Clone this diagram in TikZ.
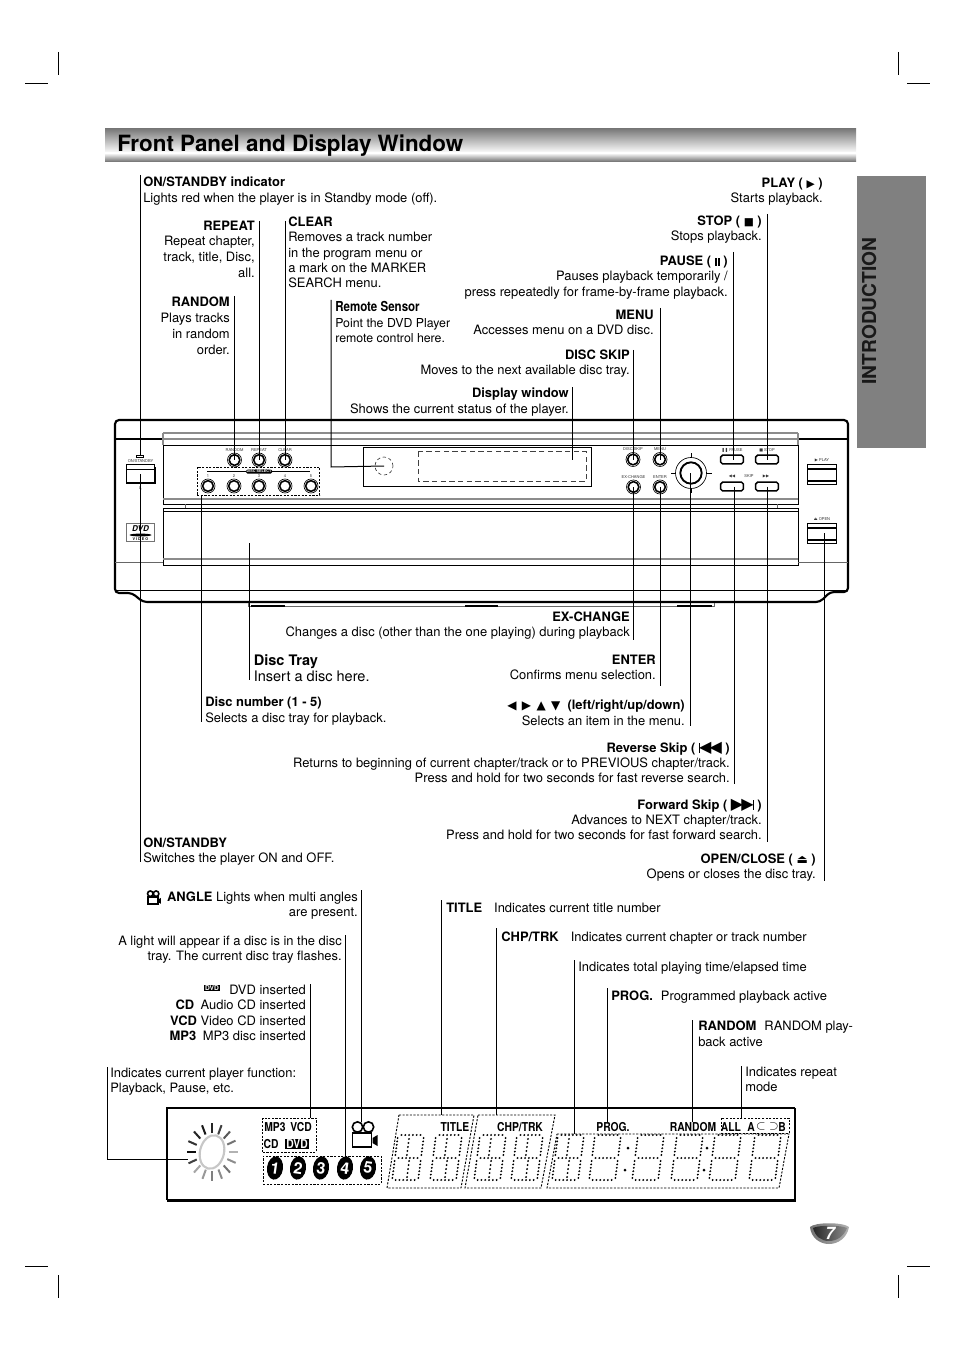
\documentclass[tikz,border=0pt]{standalone}
\usepackage{fontspec}
\setmainfont{TeX Gyre Heros}
\newfontfamily\symfont{DejaVu Sans}
\newfontfamily\cnfont[FakeStretch=0.84]{TeX Gyre Heros}
\usetikzlibrary{shapes.geometric, calc, positioning}

\newcommand{\panelsym}[2][9]{{\symfont\fontsize{#1}{#1}\selectfont #2}}
\newcommand{\bartick}{\rule[-0.2pt]{0.7pt}{7pt}}

\begin{document}
\begin{tikzpicture}[x=0.75pt, y=-0.75pt, line cap=butt]

% --- Styles ---
\tikzset{
    lblL/.style={anchor=north west, align=left, inner sep=0pt, yshift=3.8pt,
        font=\fontsize{9.7}{11.4}\selectfont, execute at begin node=\strut},
    lblR/.style={lblL, anchor=north east, align=right},
    leader/.style={black, line width=0.75pt},
    cropMark/.style={black, line width=0.6pt},
    devLine/.style={black, line width=0.7pt},
    devThick/.style={black, line width=1.6pt},
    devGray/.style={black!45, line width=1pt},
    dashBox/.style={black, line width=0.7pt, dash pattern=on 1.6pt off 1.1pt},
    dashGray/.style={black!75, line width=0.5pt, dash pattern=on 4pt off 2.5pt},
    tinyLbl/.style={inner sep=0pt, font=\fontsize{3}{3.4}\selectfont, black!80},
    btnRound/.style={circle, draw=black, fill=white, line width=1.2pt, minimum size=8pt, inner sep=0pt},
    btnFlat/.style={rectangle, rounded corners=1.4pt, draw=black, fill=white, line width=1.1pt,
        minimum width=17pt, minimum height=6.5pt, inner sep=0pt},
    btnBig/.style={rectangle, draw=black, fill=white, line width=0.6pt, minimum width=21.5pt, minimum height=15pt, inner sep=0pt},
    dispLbl/.style={inner sep=0pt, font=\cnfont\bfseries\fontsize{9.2}{10}\selectfont},
    discDot/.style={ellipse, fill=black, text=white, inner sep=0pt, minimum width=12pt, minimum height=17.5pt,
        rotate=-8, font=\bfseries\fontsize{12}{12}\selectfont},
    segdigit/.pic={
        \begin{scope}[xslant=0.13]
            \foreach \y in {-23,0,22} \foreach \x in {-9.5,-5.7,-1.9,1.9,5.7,9.5} {
                \fill[black] (\x,\y) circle (1.05);
            }
            \foreach \x in {-13,13} \foreach \y in {-20,-16.6,-13.2,-9.8,-6.4,-3, 3,6.4,9.8,13.2,16.6,20} {
                \fill[black] (\x,\y) circle (1.05);
            }
        \end{scope}
    },
    segcenter/.pic={
        \begin{scope}[xslant=0.13]
            \foreach \y in {-19,-15,-11,-7,-3} {
                \fill[black] (-1.5,\y) circle (1.05);
                \fill[black] (1.5,-\y) circle (1.05);
            }
        \end{scope}
    },
    camera/.pic={
        \draw[black, line width=1.2pt, fill=white] (-7,-10) circle (5.2);
        \draw[black, line width=1.2pt, fill=white] (4,-10) circle (5.2);
        \draw[black, line width=1.4pt, fill=white] (-12,-4) rectangle (7,10);
        \fill[black] (8,1) -- (13,-2) -- (13,9) -- (8,6) -- cycle;
    },
}

\useasboundingbox (0,0) rectangle (954,1351);

% --- Crop marks ---
\foreach \x/\xa/\xb in {58/25/48, 898/907/930} {
    \draw[cropMark] (\x,52) -- (\x,75);
    \draw[cropMark] (\xa,83) -- (\xb,83);
    \draw[cropMark] (\x,1275) -- (\x,1298);
    \draw[cropMark] (\xa,1266) -- (\xb,1266);
}

% --- Title bar and side tab ---
\shade[top color=black!52, bottom color=white] (105,129) rectangle (856,153);
\shade[top color=white, bottom color=black!58] (105,153) rectangle (856,162);
\node[anchor=base west, inner sep=0pt, font=\bfseries\fontsize{16.8}{18}\selectfont] (titleLbl) at (117,151.5) {Front Panel and Display Window};
\fill[black!50] (857,176) rectangle (926,448);
\node[rotate=90, inner sep=0pt, text=black!90, font=\bfseries\fontsize{14.4}{16}\selectfont] (tabLbl) at (869,311) {INTRODUCTION};

% --- The front panel ---
\draw[devThick, rounded corners=3pt] (143,602) -- (132,593) -- (115,593) -- (115,420) -- (848,420) -- (848,592) -- (830,592) -- (820,602) -- cycle;
\draw[devThick] (115,439) -- (163,439);
\draw[devThick] (798,439) -- (848,439);
\draw[devGray] (163,433) -- (798,433) (163,433) -- (163,445) (798,433) -- (798,445);
\draw[devGray] (163,439) -- (798,439);
\draw[devLine] (163,445) rectangle (798,504);
\draw[devGray] (163,499) -- (798,499);
\draw[devLine] (163,508) rectangle (798,565);
\draw[devLine] (163,511) -- (798,511);
\draw[devGray] (163,559) -- (798,559);
\draw[devLine] (115,590) -- (848,590);
\draw[black!60, line width=0.5pt] (115,562) -- (163,562) (798,562) -- (848,562);
\draw[black!60, line width=0.5pt] (185,504) -- (185,508) (777,504) -- (777,508);
% feet under the tray
\draw[black!60, line width=0.5pt] (248,603) -- (248,606) -- (714,606) -- (714,603);
\draw[black, line width=0.8pt] (251,606) -- (285,606) (465,606) -- (498,606) (677,606) -- (712,606);

% power side
\node[draw=black, line width=0.4pt, minimum width=5pt, minimum height=1.6pt, inner sep=0pt] (ledOn) at (140,456) {};
\node[tinyLbl] (ledLbl) at (140.5,461) {ON/STANDBY};
\node[btnBig, minimum height=14pt, line width=0.8pt] (btnOn) at (140.5,474) {};
\draw[black, line width=0.6pt] (126,469) -- (155,469);
\draw[black, line width=1.6pt] (155,467) -- (155,483) -- (127,483);
\node[tinyLbl] (onMark) at (140.5,488) {I/\symbol{"2C}};
\node[draw=black!55, line width=0.7pt, minimum width=21.5pt, minimum height=14pt, inner sep=0pt] (dvdLogo) at (140.5,532.5) {};
\node[inner sep=0pt, font=\bfseries\itshape\fontsize{6}{6}\selectfont] (dvdLogoTxt) at (140.5,528.5) {DVD};
\fill[black] (140.5,535) ellipse [x radius=11, y radius=1.4];
\node[inner sep=0pt, font=\bfseries\fontsize{2.8}{3}\selectfont] (dvdLogoSub) at (140.5,539.5) {V I D E O};

% round buttons, upper left
\foreach \n/\x/\y/\t in {bRandom/234.5/460/RANDOM, bRepeat/259/460/REPEAT, bClear/285/460/CLEAR,
        bDiscOne/208/486/1, bDiscTwo/234/486/2, bDiscThree/259/486/3, bDiscFour/285/486/4, bDiscFive/311/486/5,
        bDiscSkip/633/459.5/DISC SKIP, bMenu/660/459.5/MENU, bExChange/633.5/487/EX-CHANGE, bEnter/660/487/ENTER} {
    \node[btnRound] (\n) at (\x,\y) {};
    \draw[black, line width=0.5pt] (\n.center) circle (7);
    \node[tinyLbl] (\n Lbl) at ($(\n.center)+(0,-10)$) {\t};
}
\node[dashBox, draw, minimum width=92pt, minimum height=21pt, inner sep=0pt] (boxDiscs) at (258.5,481) {};
\draw[black, line width=0.6pt] (207,471.5) -- (310,471.5);
\node[fill=black, text=white, rounded corners=1pt, inner sep=0.5pt, font=\bfseries\fontsize{2.8}{3}\selectfont] (discSelect) at (259,471.5) {DISC SELECT};

% display window
\draw[devLine] (363,447) rectangle (591,486);
\node[circle, draw=black!75, line width=0.5pt, dash pattern=on 2.5pt off 2pt, minimum size=13.5pt, inner sep=0pt] (sensor) at (384,466) {};
\draw[dashGray] (418,451.5) rectangle (586,481);

% jog dial and flat buttons
\node[circle, draw=black, fill=white, line width=1.4pt, minimum size=16pt, inner sep=0pt] (jog) at (691,473) {};
\draw[black, line width=0.5pt] (jog.center) circle (15.5);
\draw[black, line width=0.7pt] (691,453) -- (691,457) (691,488) -- (691,493) (671,473) -- (676,473) (706,473) -- (712,473);
\foreach \n/\x/\y in {bPause/732/459.5, bStop/767/459.5, bRev/732/486.5, bFwd/767/486.5} {
    \node[btnFlat] (\n) at (\x,\y) {};
}
\node[tinyLbl] (pauseLbl) at (732,450) {{\symfont\char"275A\char"275A} PAUSE};
\node[tinyLbl] (stopLbl) at (767,450) {{\symfont\char"25A0} STOP};
\node[tinyLbl] (revLbl) at (732,476) {{\symfont\char"25C0\char"25C0}};
\node[tinyLbl] (skipLbl) at (749,476) {SKIP};
\node[tinyLbl] (fwdLbl) at (766,476) {{\symfont\char"25B6\char"25B6}};

% play and open/close
\foreach \n/\y/\t in {bPlay/474/{\symfont\char"25B6} PLAY, bOpen/533/{\symfont\char"23CF} OPEN/CLOSE} {
    \node[btnBig] (\n) at (822,\y) {};
    \draw[black, line width=1pt] (807,\y-5) -- (837,\y-5);
    \draw[black, line width=0.8pt] (807,\y+7) -- (837,\y+7);
    \node[tinyLbl] (\n Lbl) at (822,\y-14) {\t};
}

% --- Labels above the panel ---
\node[lblL] (lblIndicator) at (143,182) {\textbf{ON/STANDBY indicator}\\Lights red when the player is in Standby mode (off).};
\node[lblR] (lblRepeat) at (255,225.5) {\textbf{REPEAT}\\[0.5pt]Repeat chapter,\\[0.5pt]track, title, Disc,\\[0.5pt]all.};
\node[lblL] (lblClear) at (288,222) {\textbf{CLEAR}\\Removes a track number\\in the program menu or\\a mark on the MARKER\\SEARCH menu.};
\node[lblR] (lblRandom) at (230,302) {\textbf{RANDOM}\\[0.5pt]Plays tracks\\[0.5pt]in random\\[0.5pt]order.};
\node[lblL] (lblSensor) at (335,306) {{\cnfont\bfseries\fontsize{10.3}{11}\selectfont Remote Sensor}\\[0.5pt]{\fontsize{9.25}{11}\selectfont Point the DVD Player}\\{\fontsize{9.25}{11}\selectfont remote control here.}};
\node[lblR] (lblPlay) at (823,182.5) {\textbf{PLAY ( \panelsym[8]{\char"25B6} )}\\Starts playback.};
\node[lblR] (lblStop) at (762,221) {\textbf{STOP ( \panelsym[8]{\char"25A0} )}\\Stops playback.};
\node[lblR] (lblPause) at (728,261) {\textbf{PAUSE ( \rule{1.6pt}{6.2pt}\kern0.6pt\rule{1.6pt}{6.2pt} )}\\Pauses playback temporarily /\\press repeatedly for frame-by-frame playback.};
\node[lblR] (lblMenu) at (654,315) {\textbf{MENU}\\Accesses menu on a DVD disc.};
\node[lblR] (lblDiscSkip) at (630,355) {\textbf{DISC SKIP}\\Moves to the next available disc tray.};
\node[lblR] (lblDisplay) at (569,393) {\textbf{Display window}\\Shows the current status of the player.};

% --- Labels below the panel ---
\node[lblR] (lblExChange) at (630,617) {\textbf{EX-CHANGE}\\Changes a disc (other than the one playing) during playback};
\node[lblR] (lblEnter) at (656,660) {\textbf{ENTER}\\Confirms menu selection.};
\node[lblR] (lblArrows) at (685,705) {\textbf{\panelsym{\char"25C0\hspace{4pt}\char"25B6\hspace{4pt}\char"25B2\hspace{4pt}\char"25BC}\ \ (left/right/up/down)}\\Selects an item in the menu.};
\node[lblR] (lblRev) at (730,747) {\textbf{Reverse Skip ( \bartick\kern-0.6pt\panelsym[12]{\char"25C0\kern-1.4pt\char"25C0} )}\\Returns to beginning of current chapter/track or to PREVIOUS chapter/track.\\Press and hold for two seconds for fast reverse search.};
\node[lblR] (lblFwd) at (762,804) {\textbf{Forward Skip ( \panelsym[12]{\char"25B6\kern-1.4pt\char"25B6}\kern-0.6pt\bartick{} )}\\Advances to NEXT chapter/track.\\Press and hold for two seconds for fast forward search.};
\node[lblR] (lblOpen) at (816,859) {\textbf{OPEN/CLOSE ( \panelsym{\char"23CF} )}\\Opens or closes the disc tray.};
\node[lblL, font=\fontsize{10.9}{12}\selectfont] (lblTray) at (253.5,659) {\textbf{Disc Tray}\\Insert a disc here.};
\node[lblL] (lblDiscNum) at (205,702) {\textbf{Disc number (1 - 5)}\\Selects a disc tray for playback.};
\node[lblL] (lblOnStandby) at (143,843) {\textbf{ON/STANDBY}\\Switches the player ON and OFF.};

% --- Labels above the display ---
\node[lblR] (lblAngle) at (358,897) {\textbf{ANGLE} Lights when multi angles\\are present.};
\pic[scale=0.53, transform shape] at (154,899) {camera};
\node[lblR] (lblLight) at (342,941) {A light will appear if a disc is in the disc\\tray. The current disc tray flashes.};
\node[lblR] (lblInserted) at (306,990) {DVD inserted\\\textbf{CD}\enspace Audio CD inserted\\\textbf{VCD} Video CD inserted\\\textbf{MP3}\enspace MP3 disc inserted};
\node[fill=black, text=white, inner sep=0.6pt, font=\bfseries\fontsize{5}{5}\selectfont] (dvdBadge) at (212,988) {DVD};
\node[lblL] (lblFunction) at (110,1073) {Indicates current player function:\\Playback, Pause, etc.};
\node[lblL] (lblTitle) at (446,907) {\textbf{TITLE}\hspace{9pt}Indicates current title number};
\node[lblL] (lblChp) at (501,936) {\textbf{CHP/TRK}\hspace{9pt}Indicates current chapter or track number};
\node[lblL] (lblTime) at (578,966) {Indicates total playing time/elapsed time};
\node[lblL] (lblProg) at (611,995) {\textbf{PROG.}\hspace{6pt}Programmed playback active};
\node[lblL] (lblRandomDisp) at (698,1026) {\textbf{RANDOM}\hspace{6pt}RANDOM play-\\back active};
\node[lblL] (lblRepeatDisp) at (745,1072) {Indicates repeat\\mode};

% --- The display window ---
\draw[black, line width=0.8pt] (167,1200) -- (167,1108) -- (795,1108);
\draw[black, line width=1.8pt] (795,1108) -- (795,1200.5) -- (167,1200.5);

% the flashing disc
\node[ellipse, draw=black!22, line width=1.6pt, minimum width=18pt, minimum height=25.5pt, inner sep=0pt, rotate=-14] (discLight) at (212,1152) {};
\foreach \a/\c in {0/30, 22/45, 45/55, 67/45, 90/50, 112/40, 135/35, 157/75, 180/95, 202/80, 225/85, 247/90, 270/85, 292/75, 315/65, 337/55} {
    \draw[black!\c, line width=1.5pt] ($(212,1152)+(\a:16.5 and 19)$) -- ($(212,1152)+(\a:25.5 and 29)$);
}

% disc selector group
\node[dashBox, draw, minimum width=40pt, minimum height=25.5pt, inner sep=0pt] (boxMedia) at (289.5,1135) {};
\node[dispLbl] (mpThree) at (275,1127) {MP3};
\node[dispLbl] (vcdDisp) at (301,1127) {VCD};
\node[dispLbl] (cdDisp) at (271,1144) {CD};
\node[dispLbl, fill=black, text=white, inner xsep=1pt, inner ysep=0.6pt] (dvdDisp) at (297,1144) {DVD};
\node[dashBox, draw, minimum width=88.5pt, minimum height=21pt, inner sep=0pt] (boxNums) at (322,1170) {};
\foreach \n/\x/\t in {dOne/275/1, dTwo/298/2, dThree/321/3, dFour/345/4, dFive/368/5} {
    \node[discDot] (\n) at (\x,1168) {\t};
}
\pic[transform shape] at (364.5,1137) {camera};

% digit groups
\draw[dashBox] (399,1115) -- (474,1115) -- (461,1188) -- (387,1188) -- cycle;
\draw[dashBox] (478,1115) -- (555,1115) -- (541,1188) -- (465,1188) -- cycle;
\draw[dashBox] (557,1134) -- (789,1134) -- (779,1188) -- (547,1188) -- cycle;
\foreach \p in {408,446,490,527,568,605,648,687,725,765} {
    \pic at (\p,1158) {segdigit};
}
\foreach \p in {408,446,490,527,568} {
    \pic at (\p,1158) {segcenter};
}
\foreach \x/\y in {628/1148, 625/1170, 707/1148, 704/1170} {
    \fill[black] (\x,\y) circle (1.5);
}
\node[dispLbl] (titleDisp) at (455,1127) {TITLE};
\node[dispLbl] (chpDisp) at (520,1127) {CHP/TRK};
\node[dispLbl] (progDisp) at (613,1127) {PROG.};
\node[dispLbl] (randomDisp) at (693,1127) {RANDOM};
\node[dashBox, draw, minimum width=51pt, minimum height=11.3pt, inner sep=0pt] (boxRepeat) at (755,1125.5) {};
\node[dispLbl] (allDisp) at (731,1127) {ALL};
\node[dispLbl] (aDisp) at (751,1127) {A};
\node[inner sep=0pt, font=\fontsize{9}{9}\selectfont] (subDisp) at (761,1126.5) {$\subset$};
\node[inner sep=0pt, font=\fontsize{9}{9}\selectfont] (supDisp) at (774,1126.5) {$\supset$};
\node[dispLbl] (bDisp) at (782,1127) {B};

% --- Leaders ---
\foreach \n/\x/\y in {tIndicator/140/175, bOnStandby/140.5/862, tRepeat/259/221, tClear/285/221, tRandom/234.5/296,
        tSensor/331/300, cSensor/331/467, tStop/767/214, tPause/733/252, tMenu/660/308, tDiscSkip/633/350, tDisplay/572/387,
        dDisplay/572/460, bExChange2/633.5/640, bEnter2/660/686, tJog/690/473, bJog/690/726, bRevEnd/734/784, bFwdEnd/767/842,
        tOpen/824/533, bOpenEnd/824/881, tTray/249.5/543, bTray/249.5/680, bDiscNum/201/722,
        tAngle/361/890, cCamera/361/1122, tLight/345/935, tInserted/310/984, tFunction/107/1067, cFunction/107/1159, eFunction/188/1159,
        tTitle/441/900, tChp/496/928, tTime/574/960, tProg/607/988, tRandomDisp/692.5/1020, tRepeatDisp/741/1066} {
    \coordinate (\n) at (\x,\y);
}
\draw[leader] (tIndicator) -- (ledOn.center -| tIndicator);
\draw[leader] (btnOn.center) -- (bOnStandby);
\draw[leader] (tRepeat) -- (bRepeat.center);
\draw[leader] (tClear) -- (bClear.center);
\draw[leader] (tRandom) -- (bRandom.center);
\draw[leader] (tSensor) -- (cSensor) -- (sensor.center);
\draw[leader] (tStop) -- (bStop.center);
\draw[leader] (tPause) -- (tPause |- bPause);
\draw[leader] (tMenu) -- (bMenu.center);
\draw[leader] (tDiscSkip) -- (bDiscSkip.center);
\draw[leader] (tDisplay) -- (dDisplay);
\draw[leader] (bExChange.center) -- (bExChange2);
\draw[leader] (bEnter.center) -- (bEnter2);
\draw[leader] (tJog) -- (bJog);
\draw[leader] (bRevEnd |- bRev) -- (bRevEnd);
\draw[leader] (bFwd.center) -- (bFwdEnd);
\draw[leader] (tOpen) -- (bOpenEnd);
\draw[leader] (tTray) -- (bTray);
\draw[leader] (boxDiscs.south -| bDiscNum) -- (bDiscNum);
\draw[leader] (tAngle) -- (cCamera);
\draw[leader] (tLight) -- (tLight |- boxNums.north);
\draw[leader] (tInserted) -- (tInserted |- boxMedia.north);
\draw[leader] (tFunction) -- (cFunction) -- (eFunction);
\draw[leader] (tTitle) -- (tTitle |- 0,1115);
\draw[leader] (tChp) -- (tChp |- 0,1115);
\draw[leader] (tTime) -- (tTime |- 0,1134);
\draw[leader] (tProg) -- (progDisp.north -| tProg);
\draw[leader] (tRandomDisp) -- (randomDisp.north -| tRandomDisp);
\draw[leader] (tRepeatDisp) -- (tRepeatDisp |- boxRepeat.north);

% --- Page number ---
\shade[left color=black!55, right color=black!30] (810,1227) .. controls (815,1222) and (843,1222) .. (849,1227) .. controls (847,1238) and (838,1244) .. (829,1244) .. controls (820,1244) and (811,1238) .. (810,1227) -- cycle;
\shade[left color=black!85, right color=black!45] (813,1228) .. controls (818,1225) and (841,1225) .. (847,1228) .. controls (844,1236) and (837,1241) .. (829,1241) .. controls (821,1241) and (815,1236) .. (813,1228) -- cycle;
\node[text=white, inner sep=0pt, font=\bfseries\itshape\fontsize{13}{13}\selectfont] (pageNo) at (830,1233) {7};

\end{tikzpicture}
\end{document}
